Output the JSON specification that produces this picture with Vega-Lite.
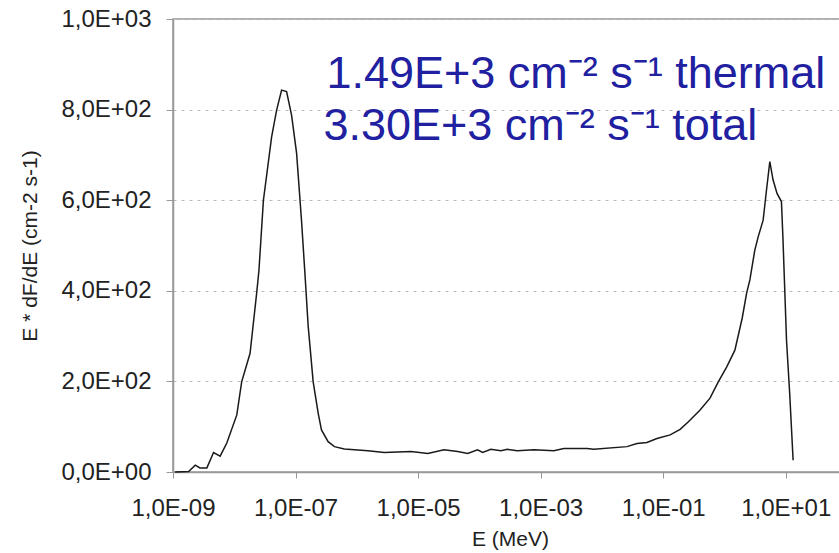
{
  "$schema": "https://vega.github.io/schema/vega-lite/v6.json",
  "autosize": {"type": "none"},
  "padding": {"left": 173, "top": 19, "right": 0, "bottom": 81},
  "width": 674,
  "height": 453,
  "background": "white",
  "config": {
    "font": "Liberation Sans",
    "view": {"stroke": "#999999", "strokeWidth": 1.5}
  },
  "layer": [
    {
      "data": {"values": [
        {"E": 1.08e-9, "flux": 0},
        {"E": 1.80e-9, "flux": 1},
        {"E": 2.31e-9, "flux": 15},
        {"E": 2.75e-9, "flux": 9},
        {"E": 3.57e-9, "flux": 9},
        {"E": 4.59e-9, "flux": 43},
        {"E": 5.88e-9, "flux": 35},
        {"E": 7.55e-9, "flux": 64},
        {"E": 1.10e-8, "flux": 126},
        {"E": 1.32e-8, "flux": 199},
        {"E": 1.81e-8, "flux": 262},
        {"E": 2.32e-8, "flux": 395},
        {"E": 2.53e-8, "flux": 446},
        {"E": 2.99e-8, "flux": 600},
        {"E": 4.07e-8, "flux": 740},
        {"E": 4.91e-8, "flux": 799},
        {"E": 5.92e-8, "flux": 843},
        {"E": 7.14e-8, "flux": 840},
        {"E": 8.61e-8, "flux": 788},
        {"E": 1.04e-7, "flux": 704},
        {"E": 1.25e-7, "flux": 556},
        {"E": 1.42e-7, "flux": 440},
        {"E": 1.61e-7, "flux": 321},
        {"E": 1.94e-7, "flux": 199},
        {"E": 2.34e-7, "flux": 130},
        {"E": 2.65e-7, "flux": 93},
        {"E": 3.40e-7, "flux": 67},
        {"E": 4.31e-7, "flux": 56},
        {"E": 6.26e-7, "flux": 51},
        {"E": 1.52e-6, "flux": 47},
        {"E": 2.80e-6, "flux": 43},
        {"E": 7.69e-6, "flux": 45},
        {"E": 1.44e-5, "flux": 41},
        {"E": 2.65e-5, "flux": 49},
        {"E": 4.43e-5, "flux": 45},
        {"E": 6.43e-5, "flux": 41},
        {"E": 9.35e-5, "flux": 49},
        {"E": 1.13e-4, "flux": 43},
        {"E": 1.54e-4, "flux": 50},
        {"E": 2.24e-4, "flux": 47},
        {"E": 2.88e-4, "flux": 50},
        {"E": 4.18e-4, "flux": 47},
        {"E": 7.78e-4, "flux": 49},
        {"E": 1.64e-3, "flux": 47},
        {"E": 2.39e-3, "flux": 52},
        {"E": 3.95e-3, "flux": 52},
        {"E": 5.74e-3, "flux": 52},
        {"E": 7.36e-3, "flux": 50},
        {"E": 2.57e-2, "flux": 56},
        {"E": 3.73e-2, "flux": 63},
        {"E": 5.43e-2, "flux": 65},
        {"E": 7.91e-2, "flux": 74},
        {"E": 0.130, "flux": 82},
        {"E": 0.189, "flux": 94},
        {"E": 0.258, "flux": 111},
        {"E": 0.400, "flux": 137},
        {"E": 0.581, "flux": 163},
        {"E": 0.793, "flux": 199},
        {"E": 1.09, "flux": 232},
        {"E": 1.48, "flux": 269},
        {"E": 1.95, "flux": 340},
        {"E": 2.30, "flux": 395},
        {"E": 2.60, "flux": 424},
        {"E": 3.13, "flux": 490},
        {"E": 3.55, "flux": 519},
        {"E": 4.28, "flux": 556},
        {"E": 4.85, "flux": 622},
        {"E": 5.50, "flux": 685},
        {"E": 6.21, "flux": 645},
        {"E": 7.21, "flux": 615},
        {"E": 8.51, "flux": 597},
        {"E": 9.03, "flux": 512},
        {"E": 10.3, "flux": 291},
        {"E": 11.6, "flux": 174},
        {"E": 13.2, "flux": 26}
      ]},
      "mark": {"type": "line", "color": "#1a1a1a", "strokeWidth": 1.5, "interpolate": "linear"},
      "encoding": {
        "x": {
          "field": "E", "type": "quantitative",
          "scale": {"type": "log", "domain": [1e-9, 100], "nice": false},
          "axis": {
            "title": "E (MeV)",
            "values": [1e-9, 1e-7, 1e-5, 1e-3, 1e-1, 10],
            "labelExpr": "'1,0E' + (round(log(datum.value)/LN10) < 0 ? '-' : '+') + (abs(round(log(datum.value)/LN10)) < 10 ? '0' : '') + abs(round(log(datum.value)/LN10))",
            "labelOverlap": false,
            "labelBound": false,
            "labelFlush": false,
            "grid": false,
            "labelFont": "Liberation Sans",
            "titleFont": "Liberation Sans",
            "labelFontSize": 24,
            "titleFontSize": 21,
            "titleFontWeight": "normal",
            "labelColor": "#222222",
            "titleColor": "#222222",
            "domainColor": "#999999",
            "domainWidth": 1.5,
            "tickColor": "#999999",
            "tickSize": 6,
            "labelPadding": 18,
            "titlePadding": 8
          }
        },
        "y": {
          "field": "flux", "type": "quantitative",
          "scale": {"domain": [0, 1000], "nice": false},
          "axis": {
            "title": "E * dF/dE (cm-2 s-1)",
            "values": [0, 200, 400, 600, 800, 1000],
            "labelExpr": "datum.value == 0 ? '0,0E+00' : (datum.value == 1000 ? '1,0E+03' : (datum.value / 100) + ',0E+02')",
            "labelOverlap": false,
            "labelFlush": false,
            "grid": true,
            "gridColor": "#bbbbbb",
            "gridDash": [3, 5],
            "gridWidth": 1,
            "labelFont": "Liberation Sans",
            "titleFont": "Liberation Sans",
            "labelFontSize": 24,
            "titleFontSize": 21,
            "titleFontWeight": "normal",
            "labelColor": "#222222",
            "titleColor": "#222222",
            "domainColor": "#999999",
            "domainWidth": 1.5,
            "tickColor": "#999999",
            "tickSize": 7,
            "labelPadding": 15,
            "titlePadding": 20
          }
        }
      }
    },
    {
      "data": {"values": [
        {"E": 3.19e-7, "flux": 848, "label": "1.49E+3 cm⁻² s⁻¹ thermal"},
        {"E": 2.85e-7, "flux": 733, "label": "3.30E+3 cm⁻² s⁻¹ total"}
      ]},
      "mark": {"type": "text", "align": "left", "baseline": "alphabetic", "font": "Liberation Sans", "fontSize": 45, "color": "#2020a0"},
      "encoding": {
        "x": {"field": "E", "type": "quantitative"},
        "y": {"field": "flux", "type": "quantitative"},
        "text": {"field": "label"}
      }
    }
  ]
}
